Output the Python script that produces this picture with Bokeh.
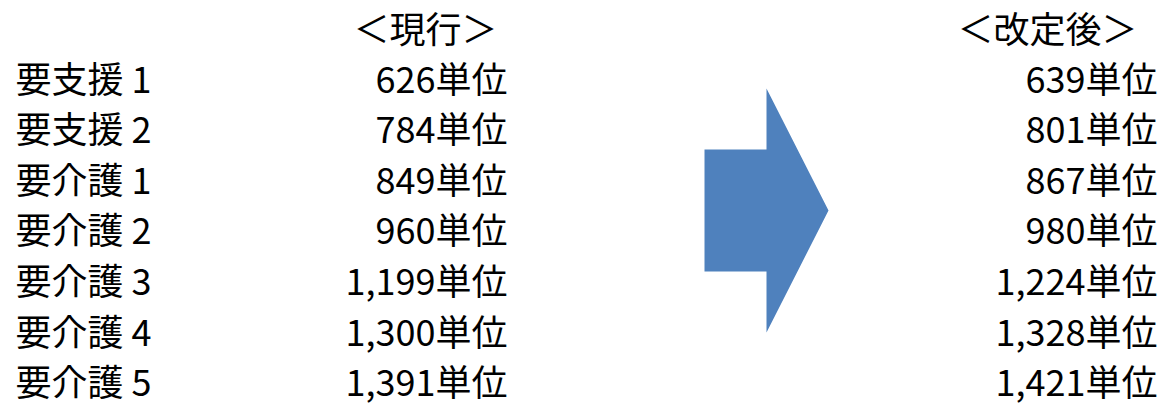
from bokeh.plotting import figure
from bokeh.models import Range1d, ColumnDataSource
from bokeh.core.properties import value
from bokeh.embed import file_html
from bokeh.resources import INLINE

# ---- data ----
categories = ["要支援 1", "要支援 2", "要介護 1", "要介護 2", "要介護 3", "要介護 4", "要介護 5"]
current_units = [626, 784, 849, 960, 1199, 1300, 1391]
revised_units = [639, 801, 867, 980, 1224, 1328, 1421]
headers = ["＜現行＞", "＜改定後＞"]
unit_suffix = "単位"

FONT = value("Noto Sans CJK JP")
FS = "36px"
COLOR = "#000000"
ARROW_COLOR = "#4F81BD"

W, H = 1169, 406
p = figure(width=W, height=H, output_backend="svg", toolbar_location=None,
           x_range=Range1d(0, W), y_range=Range1d(H, 0),
           min_border=0, min_border_left=0, min_border_right=0,
           min_border_top=0, min_border_bottom=0)
p.axis.visible = False
p.grid.visible = False
p.outline_line_color = None
p.background_fill_color = "white"
p.border_fill_color = "white"

# row layout
row0_y = 76
row_step = 50.6
ys = [row0_y + i * row_step for i in range(len(categories))]

src = ColumnDataSource(dict(
    y=ys,
    cat=categories,
    cur=[f"{v:,}{unit_suffix}" for v in current_units],
    rev=[f"{v:,}{unit_suffix}" for v in revised_units],
))

common = dict(source=src, y="y", text_font=FONT, text_font_size=FS,
              text_color=COLOR, text_baseline="middle")
p.text(x=15, text="cat", text_align="left", **common)
p.text(x=507, text="cur", text_align="right", **common)
p.text(x=1157, text="rev", text_align="right", **common)

# headers
hsrc = ColumnDataSource(dict(x=[425, 1047], y=[26, 26], t=headers))
p.text(x="x", y="y", text="t", source=hsrc, text_align="center",
       text_baseline="middle", text_font=FONT, text_font_size=FS, text_color=COLOR)

# arrow shape (decoration)
ax0, ax1, ax2 = 704, 766, 828
ay_mid = 210
shaft_half = 61
head_half = 122
p.patch(x=[ax0, ax1, ax1, ax2, ax1, ax1, ax0],
        y=[ay_mid - shaft_half, ay_mid - shaft_half, ay_mid - head_half, ay_mid,
           ay_mid + head_half, ay_mid + shaft_half, ay_mid + shaft_half],
        fill_color=ARROW_COLOR, line_color=None)

open("out.html", "w").write(file_html(p, INLINE))
